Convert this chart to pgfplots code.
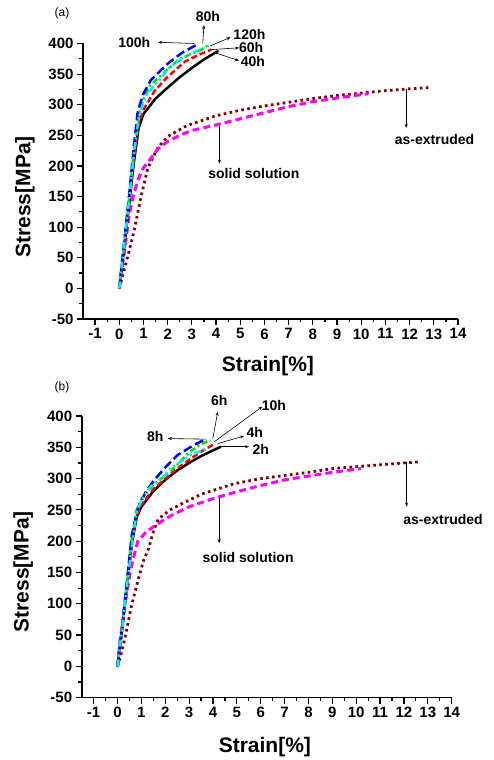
\documentclass[border=0pt]{standalone}
\usepackage{fontspec}
\setmainfont{Liberation Sans}
\usepackage{pgfplots}
\pgfplotsset{compat=1.18}
\usetikzlibrary{arrows.meta}
\definecolor{cgreen}{RGB}{0,225,0}
\definecolor{ccyan}{RGB}{0,240,240}
\definecolor{cdred}{RGB}{128,0,0}
\definecolor{cmag}{RGB}{255,0,255}
\pgfplotsset{mystyle/.style={
  scale only axis, axis x line=bottom, axis y line=left,
  axis line style={-, line width=1.6pt},
  xmin=-1.5, xmax=14, ymin=-50, ymax=400,
  xtick={-1,0,...,14}, ytick={-50,0,...,400},
  minor x tick num=1, minor y tick num=1,
  tick align=outside, major tick length=6pt, minor tick length=3.5pt,
  every tick/.style={black, line width=1.2pt},
  ticklabel style={font=\bfseries\fontsize{15}{15}\selectfont},
  /pgf/number format/assume math mode=true,
  clip=false,
  label style={font=\bfseries\fontsize{21}{21}\selectfont},
  xlabel={Strain[\%]}, ylabel={Stress[MPa]},
}}
\tikzset{ann/.style={font=\bfseries\fontsize{14}{14}\selectfont},
  arr/.style={-{Stealth[length=4pt,width=3pt]}, line width=0.6pt}}
\tikzset{
 s40/.style={black, line width=2.5pt},
 s60/.style={red, line width=2.5pt, dash pattern=on 6pt off 3pt},
 s80/.style={cgreen, line width=2.5pt, dash pattern=on 6pt off 3pt on 2pt off 3pt},
 s100/.style={blue, line width=2.5pt, dash pattern=on 9pt off 4pt},
 s120/.style={ccyan, line width=2.5pt, dash pattern=on 7pt off 3pt on 2pt off 3pt on 2pt off 3pt},
 sss/.style={cmag, line width=3pt, dash pattern=on 7pt off 4pt},
 sex/.style={cdred, line width=2.8pt, dash pattern=on 2.6pt off 3.4pt},
}
\begin{document}
\begin{tikzpicture}
\useasboundingbox (0,0) rectangle (493pt,760pt);
\node[font=\fontsize{12}{12}\selectfont] at (62pt,747pt) {(a)};
\node[font=\fontsize{12}{12}\selectfont] at (62pt,373pt) {(b)};
% ---------------- panel (a)
\begin{axis}[mystyle, at={(83pt,441pt)}, anchor=south west, width=375pt, height=275.5pt,
  xlabel style={at={(axis description cs:0.493,-0.171)}, anchor=center},
  ylabel style={at={(axis description cs:-0.155,0.443)}, anchor=center}]
\addplot[sex] coordinates {(0,0) (0.2,30) (0.4,60) (0.6,92) (0.9,150) (1.17,195) (1.4,215) (1.6,230) (2.0,248) (2.8,266) (4.0,282) (5.0,291) (6.0,298) (7.0,304) (8.0,310) (9.0,315) (10.0,319) (11.0,323) (12.0,326) (12.8,328)};
\addplot[sss] coordinates {(0,0) (0.1,30) (0.2,56) (0.4,118) (0.6,155) (0.8,180) (1.0,197) (1.3,212) (1.6,228) (2.0,240) (2.5,250) (3.0,258) (4.0,267) (5.0,277) (6.0,287) (7.0,297) (8.0,305) (9.0,311) (10.3,318)};
\addplot[s40] coordinates {(0,0) (0.2,65) (0.4,135) (0.6,205) (0.8,262) (1.0,285) (1.5,310) (2.0,328) (2.5,345) (3.0,360) (3.5,374) (4.1,388)};
\addplot[s60] coordinates {(0,0) (0.2,68) (0.4,138) (0.6,212) (0.8,268) (1.0,292) (1.45,322) (1.93,343) (2.7,370) (3.25,381) (3.8,390)};
\addplot[s80] coordinates {(0,0) (0.2,72) (0.4,145) (0.6,222) (0.8,282) (0.95,305) (1.25,330) (1.86,353) (2.5,375) (3.4,390) (3.7,398)};
\addplot[s100] coordinates {(0,0) (0.2,75) (0.4,150) (0.6,230) (0.75,285) (0.85,300) (1.0,318) (1.3,340) (2.0,367) (2.6,385) (3.3,400)};
\addplot[s120] coordinates {(0,0) (0.2,70) (0.4,142) (0.6,218) (0.8,278) (0.95,298) (1.2,320) (1.6,338) (2.1,362) (2.7,378) (3.2,388) (3.7,396)};
% annotations
\node[ann] at (axis cs:3.66,444) {80h};
\draw[arr] (axis cs:3.45,400) -- (axis cs:3.5,430);
\node[ann] at (axis cs:0.62,401) {100h};
\draw[arr] (axis cs:3.1,400) -- (axis cs:1.6,402);
\node[ann] at (axis cs:5.38,415) {120h};
\draw[arr] (axis cs:3.75,396) -- (axis cs:4.6,410);
\node[ann] at (axis cs:5.45,393) {60h};
\draw[arr] (axis cs:3.8,390) -- (axis cs:4.95,393);
\node[ann] at (axis cs:5.52,370) {40h};
\draw[arr] (axis cs:3.95,385) -- (axis cs:4.95,372);
\node[ann] at (axis cs:13.03,244) {as-extruded};
\draw[arr] (axis cs:11.86,326) -- (axis cs:11.86,262);
\node[ann] at (axis cs:5.56,188) {solid solution};
\draw[arr] (axis cs:4.14,266) -- (axis cs:4.14,204);
\end{axis}
% ---------------- panel (b)
\begin{axis}[mystyle, at={(81.7pt,62.3pt)}, anchor=south west, width=370pt, height=281.7pt,
  xlabel style={at={(axis description cs:0.495,-0.174)}, anchor=center},
  ylabel style={at={(axis description cs:-0.158,0.447)}, anchor=center}]
\addplot[sex] coordinates {(0,0) (0.15,20) (0.3,43) (0.58,96) (0.86,138) (1.1,170) (1.3,188) (1.5,215) (1.7,235) (2.2,250) (2.7,260) (3.5,275) (4.9,292) (6.0,300) (7.0,305) (8.0,310) (9.0,316) (10.0,319) (11.0,322) (12.0,325) (12.7,327)};
\addplot[sss] coordinates {(0,0) (0.1,40) (0.3,95) (0.55,155) (0.85,200) (1.2,215) (1.7,228) (2.2,240) (3.0,255) (4.0,268) (5.0,279) (6.0,289) (7.0,298) (8.0,304) (9.0,310) (10.2,316)};
\addplot[s40] coordinates {(0,0) (0.2,60) (0.4,130) (0.6,195) (0.8,238) (1.0,255) (1.5,280) (2.0,298) (2.5,313) (3.0,325) (3.5,336) (4.0,345) (4.33,351)};
\addplot[s60] coordinates {(0,0) (0.2,60) (0.4,130) (0.6,195) (0.75,235) (1.0,258) (1.5,283) (2.0,300) (2.5,316) (3.0,330) (3.5,343) (4.0,354)};
\addplot[s80] coordinates {(0,0) (0.2,65) (0.4,135) (0.6,205) (0.8,250) (1.0,268) (1.5,290) (2.0,305) (2.5,322) (3.0,342) (3.5,355) (3.9,362)};
\addplot[s100] coordinates {(0,0) (0.2,65) (0.4,138) (0.6,210) (0.86,253) (1.2,280) (1.55,298) (2.0,318) (2.53,338) (3.22,354) (3.64,362)};
\addplot[s120] coordinates {(0,0) (0.2,62) (0.4,130) (0.65,207) (0.8,245) (1.0,265) (1.4,288) (1.83,300) (2.3,318) (3.08,338) (3.78,348)};
% annotations
\node[ann] at (axis cs:4.26,425) {6h};
\draw[arr] (axis cs:3.99,363) -- (axis cs:4.2,407);
\node[ann] at (axis cs:6.55,416) {10h};
\draw[arr] (axis cs:4.06,359) -- (axis cs:6.07,415);
\node[ann] at (axis cs:5.75,373) {4h};
\draw[arr] (axis cs:4.2,356) -- (axis cs:5.3,368);
\node[ann] at (axis cs:6.0,346) {2h};
\draw[arr] (axis cs:4.33,351) -- (axis cs:5.51,351);
\node[ann] at (axis cs:1.58,368) {8h};
\draw[arr] (axis cs:3.71,363) -- (axis cs:2.11,364);
\node[ann] at (axis cs:13.64,235) {as-extruded};
\draw[arr] (axis cs:12.11,327) -- (axis cs:12.11,255);
\node[ann] at (axis cs:5.47,174) {solid solution};
\draw[arr] (axis cs:4.26,269) -- (axis cs:4.26,197);
\end{axis}
\end{tikzpicture}
\end{document}
